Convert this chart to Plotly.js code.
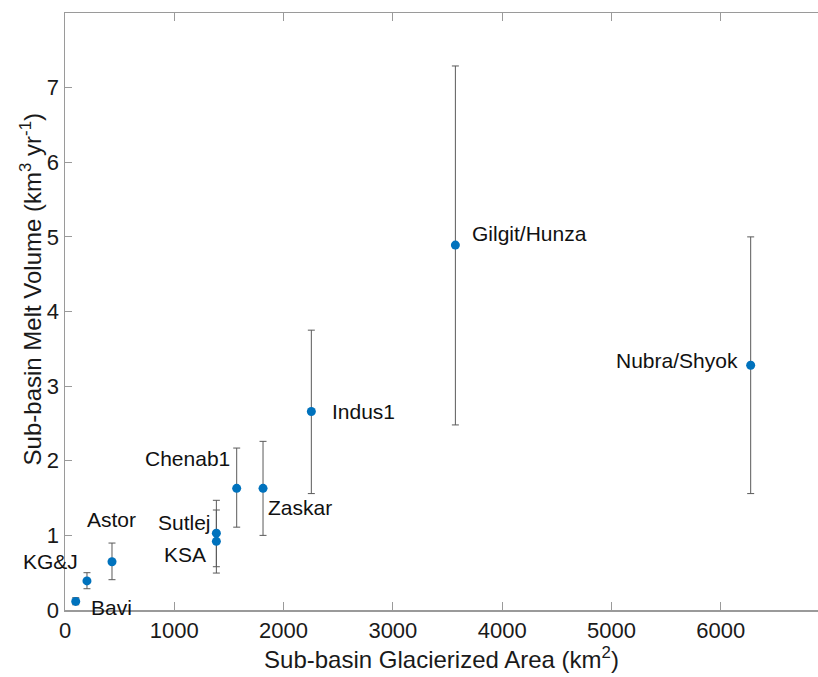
<!DOCTYPE html>
<html>
<head>
<meta charset="utf-8">
<script src="https://cdn.plot.ly/plotly-3.0.1.min.js"></script>
<style>html,body{margin:0;padding:0;background:#fff;}#chart{width:818px;height:677px;}</style>
</head>
<body>
<div id="chart"></div>
<script>
// Data
var basins = ['Bavi', 'KG&J', 'Astor', 'KSA', 'Sutlej', 'Chenab1', 'Zaskar', 'Indus1', 'Gilgit/Hunza', 'Nubra/Shyok'];
var glacierArea = [98, 201, 430, 1385, 1385, 1571, 1812, 2254, 3572, 6274];
var meltVolume = [0.115, 0.39, 0.647, 0.92, 1.03, 1.63, 1.63, 2.66, 4.89, 3.28];
var meltUpper = [0.165, 0.50, 0.897, 1.34, 1.47, 2.17, 2.26, 3.75, 7.29, 5.0];
var meltLower = [0.07, 0.285, 0.406, 0.495, 0.58, 1.11, 1.0, 1.56, 2.48, 1.56];
var xTicks = [0, 1000, 2000, 3000, 4000, 5000, 6000];
var yTicks = [0, 1, 2, 3, 4, 5, 6, 7];

// Label placement (pixel offsets from each point)
var labelStyle = {
  'Bavi': {anchor: 'left', dx: 14, dy: -6},
  'KG&J': {anchor: 'right', dx: -8, dy: 19},
  'Astor': {anchor: 'left', dx: -25.5, dy: 42},
  'KSA': {anchor: 'right', dx: -9.5, dy: -13},
  'Sutlej': {anchor: 'right', dx: -4.5, dy: 10.5},
  'Chenab1': {anchor: 'right', dx: -5.5, dy: 29.5},
  'Zaskar': {anchor: 'left', dx: 3.5, dy: -19},
  'Indus1': {anchor: 'left', dx: 19.5, dy: 0},
  'Gilgit/Hunza': {anchor: 'left', dx: 16, dy: 11.5},
  'Nubra/Shyok': {anchor: 'right', dx: -11.5, dy: 4.5}
};

var errPlus = meltUpper.map(function (u, i) { return u - meltVolume[i]; });
var errMinus = meltLower.map(function (l, i) { return meltVolume[i] - l; });

var FONT = 'Liberation Sans, Arial, Helvetica, sans-serif';
var axisGray = '#9a9a9a';
var textColor = '#1a1a1a';

var trace = {
  type: 'scatter',
  mode: 'markers',
  x: glacierArea,
  y: meltVolume,
  text: basins,
  marker: {color: '#0072BD', size: 9},
  error_y: {
    type: 'data',
    symmetric: false,
    array: errPlus,
    arrayminus: errMinus,
    color: '#5a5a5a',
    thickness: 1,
    width: 3.5
  },
  cliponaxis: false,
  hoverinfo: 'x+y+text'
};

var annotations = basins.map(function (name, i) {
  var s = labelStyle[name];
  return {
    x: glacierArea[i], y: meltVolume[i], xref: 'x', yref: 'y',
    text: name.replace('&', '&amp;'), showarrow: false,
    xanchor: s.anchor, yanchor: 'middle',
    xshift: s.dx, yshift: s.dy, borderpad: 0,
    font: {family: FONT, size: 21, color: '#111'}
  };
});

// y-axis title (placed as in the reference, slightly above the axis centre)
annotations.push({
  x: 0, y: 0.537, xref: 'paper', yref: 'paper',
  xanchor: 'center', yanchor: 'middle', xshift: -34,
  textangle: -90, showarrow: false,
  text: 'Sub-basin Melt Volume (km<sup>3</sup> yr<sup>-1</sup>)',
  font: {family: FONT, size: 24, color: textColor}
});

var layout = {
  width: 818, height: 677,
  margin: {l: 65, r: 0, t: 13, b: 67, pad: 0},
  paper_bgcolor: '#fff', plot_bgcolor: '#fff',
  showlegend: false,
  font: {family: FONT, size: 22, color: textColor},
  xaxis: {
    range: [0, 6890], tickvals: xTicks, ticktext: xTicks.map(String),
    showgrid: false, zeroline: false,
    showline: true, linecolor: axisGray, linewidth: 1.5, mirror: 'ticks',
    ticks: 'inside', ticklen: 8, tickcolor: axisGray, tickwidth: 1,
    tickfont: {family: FONT, size: 22, color: textColor},
    title: {text: 'Sub-basin Glacierized Area (km<sup>2</sup>)', font: {family: FONT, size: 24, color: textColor}, standoff: 6}
  },
  yaxis: {
    range: [0, 8], tickvals: yTicks, ticktext: yTicks.map(String),
    showgrid: false, zeroline: false,
    showline: true, linecolor: axisGray, linewidth: 1.5, mirror: false,
    ticks: 'inside', ticklen: 7, tickcolor: axisGray, tickwidth: 1,
    tickfont: {family: FONT, size: 22, color: textColor}
  },
  annotations: annotations
};

Plotly.newPlot('chart', [trace], layout, {displayModeBar: false, staticPlot: true});
</script>
</body>
</html>
